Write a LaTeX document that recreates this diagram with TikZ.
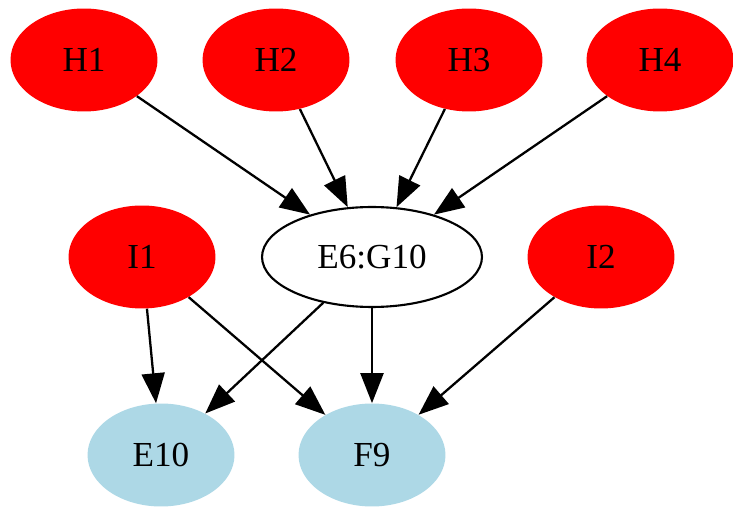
\documentclass[tikz,border=0pt]{standalone}
\usepackage{fontspec}
\setmainfont{Liberation Serif}
\usepackage{tikz}
\usetikzlibrary{arrows.meta,shapes.geometric}

\definecolor{lightblue}{HTML}{ADD8E6}

\tikzset{
  hot/.style={shape=ellipse,fill=red,minimum width=2.94cm,minimum height=2.06cm,inner sep=0pt},
  cold/.style={shape=ellipse,fill=lightblue,minimum width=2.94cm,minimum height=2.06cm,inner sep=0pt},
  mid/.style={shape=ellipse,draw=black,line width=1.2pt,fill=white,minimum width=4.4cm,minimum height=2.0cm,inner sep=0pt},
  link/.style={-{Triangle[length=0.6cm,width=0.46cm]},line width=1.3pt,black}
}

\begin{document}
\begin{tikzpicture}[x=0.02cm,y=-0.02cm,font=\fontsize{20}{22}\selectfont]
    \useasboundingbox (0,0) rectangle (733,509);
    \node[hot] (h1) at (84,60) {H1};
     \node[hot] (h2) at (276,60) {H2};
      \node[hot] (h3) at (469,60) {H3};
       \node[hot] (h4) at (660,60) {H4};
    \node[mid] (e6) at (372,257) {E6:G10};
    \node[hot] (i1) at (142,257) {I1};
    \node[hot] (i2) at (601,257) {I2};
    \node[cold] (e10) at (161,455) {E10};
    \node[cold] (f9) at (372,455) {F9};
    \path [link] (h1) edge (e6);
    \path [link] (h2) edge (e6);
    \path [link] (h3) edge (e6);
    \path [link] (h4) edge (e6);
    \path [link] (i1) edge (e10);
    \path [link] (i1) edge (f9);
    \path [link] (e6) edge (e10);
    \path [link] (e6) edge (f9);
    \path [link] (i2) edge (f9);
\end{tikzpicture}
\end{document}
